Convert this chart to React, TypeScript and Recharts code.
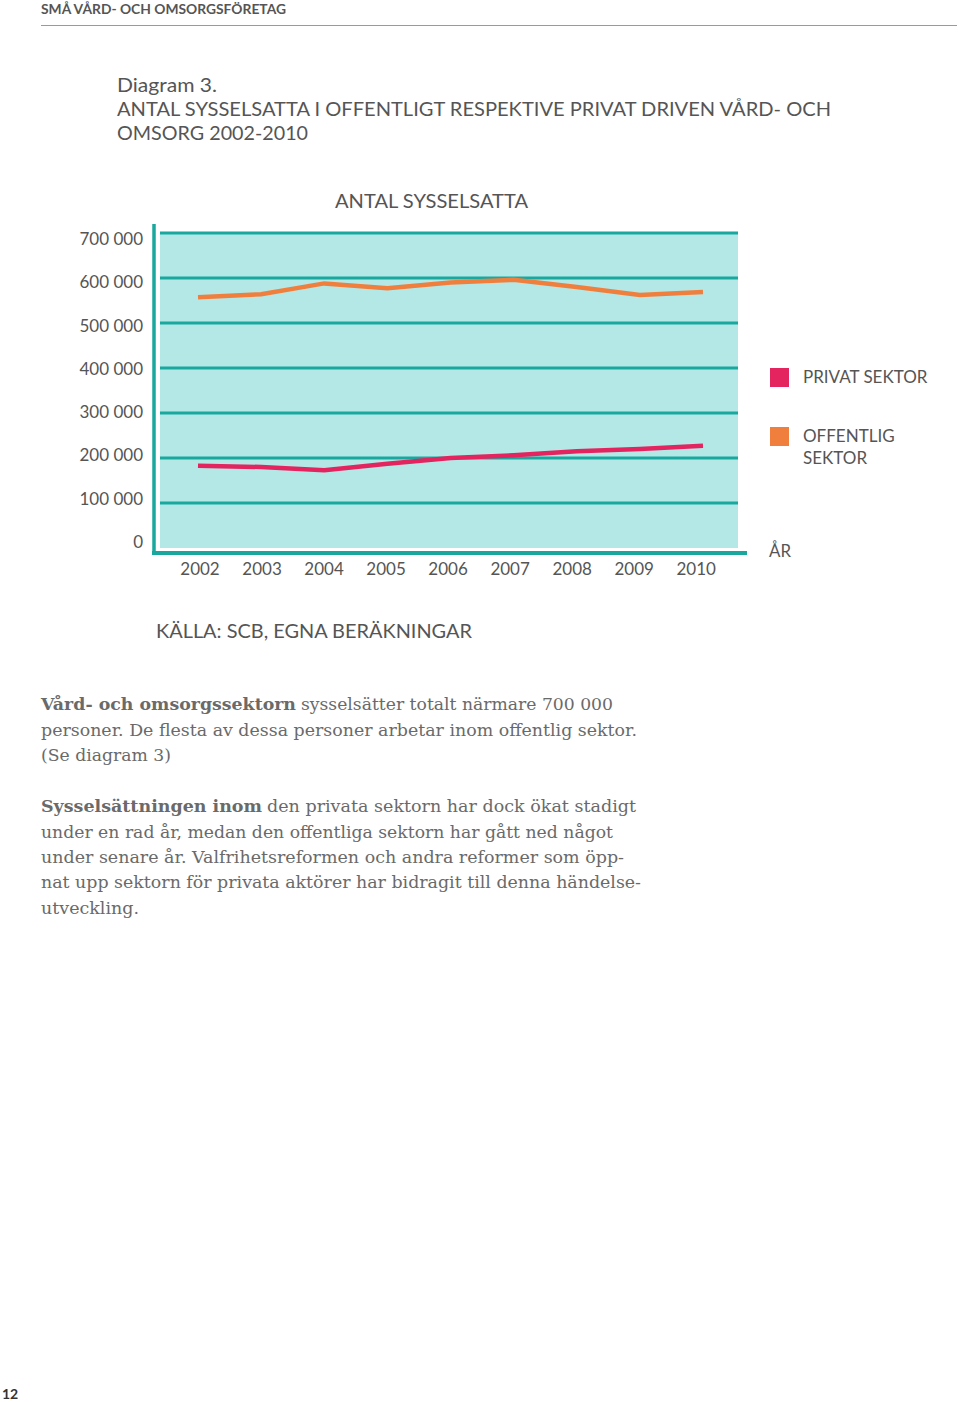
import React from 'react';
import { LineChart, Line, XAxis, YAxis, CartesianGrid, Legend, Customized } from 'recharts';

const years = ['2002', '2003', '2004', '2005', '2006', '2007', '2008', '2009', '2010'];
const offentligSektor = [557000, 564000, 588000, 577000, 590000, 596000, 580000, 562000, 569000];
const privatSektor = [183000, 180000, 173000, 187000, 200000, 206000, 215000, 220000, 227000];
const yTicks = [0, 100000, 200000, 300000, 400000, 500000, 600000, 700000];
const gridValues = [100000, 200000, 300000, 400000, 500000, 600000, 700000];
const legendOrder = ['privat', 'offentlig'];

const data = years.map((year, i) => ({
  year,
  privat: privatSektor[i],
  offentlig: offentligSektor[i],
}));

const TEAL = '#1aa89e';
const BG = '#b3e8e7';
const PINK = '#e3245f';
const ORANGE = '#f07f3e';
const GREY = '#555555';
const SANS = 'Lato, "Open Sans", sans-serif';
const SERIF = '"DejaVu Serif", serif';

const CHART_W = 960;
const CHART_H = 600;
const MARGIN = { top: 233, right: 222, bottom: 22, left: 100 };
const Y_W = 60;
const X_H = 30;
const PLOT_X = MARGIN.left + Y_W;
const PLOT_Y = MARGIN.top;
const PLOT_W = CHART_W - MARGIN.right - PLOT_X;
const PLOT_H = CHART_H - MARGIN.bottom - X_H - PLOT_Y;

const fmt = (v: number) => (v === 0 ? '0' : `${Math.round(v / 1000)} 000`);

const YTick = (props: any) => {
  const { x, y, payload } = props;
  const v = payload.value as number;
  const dy = 6 + ((v - 350000) / 350000) * 6;
  return (
    <text x={x} y={y + dy} textAnchor="end" fill={GREY} fontFamily={SANS} fontSize={17}>
      {fmt(v)}
    </text>
  );
};

const XTick = (props: any) => {
  const { x, y, payload, index } = props;
  return (
    <text x={x + 2 - index * 1.1} y={y + 27} textAnchor="middle" fill={GREY} fontFamily={SANS} fontSize={17}>
      {payload.value}
    </text>
  );
};

const AxisFrame = () => (
  <g>
    <line x1={PLOT_X - 6} x2={PLOT_X - 6} y1={PLOT_Y - 9} y2={PLOT_Y + PLOT_H + 7} stroke={TEAL} strokeWidth={3.5} />
    <line x1={PLOT_X - 8} x2={PLOT_X + PLOT_W + 9} y1={PLOT_Y + PLOT_H + 5} y2={PLOT_Y + PLOT_H + 5} stroke={TEAL} strokeWidth={4} />
  </g>
);

const legendLabels: Record<string, string[]> = {
  privat: ['PRIVAT SEKTOR'],
  offentlig: ['OFFENTLIG', 'SEKTOR'],
};

const renderLegend = (props: any) => {
  const payload = [...(props.payload || [])].sort(
    (a: any, b: any) => legendOrder.indexOf(a.dataKey) - legendOrder.indexOf(b.dataKey)
  );
  return (
    <div style={{ position: 'relative', width: 190 }}>
      {payload.map((entry: any, i: number) => (
        <div key={i} style={{ position: 'absolute', left: 0, top: i * 59, display: 'flex' }}>
          <div style={{ width: 19, height: 19, background: entry.color }} />
          <div
            style={{
              marginLeft: 14,
              fontFamily: SANS,
              fontSize: 17,
              color: GREY,
              lineHeight: '21.5px',
              marginTop: -2,
              whiteSpace: 'nowrap',
            }}
          >
            {(legendLabels[entry.dataKey] || [entry.value]).map((l: string, j: number) => (
              <div key={j}>{l}</div>
            ))}
          </div>
        </div>
      ))}
    </div>
  );
};

const T = (p: any) => <text {...p} />;

export default function App() {
  return (
    <div style={{ position: 'absolute', left: 0, top: 0, width: 960, height: 1402, background: '#fff', overflow: 'hidden' }}>
      <svg width={960} height={1402} style={{ position: 'absolute', left: 0, top: 0 }}>
        <T x={41} y={14} fontFamily={SANS} fontWeight={700} fontSize={12.5} fill={GREY} textLength={245} lengthAdjust="spacingAndGlyphs">
          SMÅ VÅRD- OCH OMSORGSFÖRETAG
        </T>
        <line x1={41} x2={957} y1={25.5} y2={25.5} stroke="#9a9a9a" strokeWidth={1.2} />
        <T x={117} y={92} fontFamily={SANS} fontSize={20} fill={GREY} textLength={100} lengthAdjust="spacingAndGlyphs">
          Diagram 3.
        </T>
        <T x={117} y={116} fontFamily={SANS} fontSize={20} fill={GREY} textLength={714} lengthAdjust="spacingAndGlyphs">
          ANTAL SYSSELSATTA I OFFENTLIGT RESPEKTIVE PRIVAT DRIVEN VÅRD- OCH
        </T>
        <T x={117} y={140} fontFamily={SANS} fontSize={20} fill={GREY} textLength={191} lengthAdjust="spacingAndGlyphs">
          OMSORG 2002-2010
        </T>
        <T x={335} y={208} fontFamily={SANS} fontSize={19} fill={GREY} textLength={193} lengthAdjust="spacingAndGlyphs">
          ANTAL SYSSELSATTA
        </T>
        <T x={769} y={557} fontFamily={SANS} fontSize={17} fill={GREY} textLength={22} lengthAdjust="spacingAndGlyphs">
          ÅR
        </T>
        <T x={156} y={638} fontFamily={SANS} fontSize={19} fill={GREY} textLength={316} lengthAdjust="spacingAndGlyphs">
          KÄLLA: SCB, EGNA BERÄKNINGAR
        </T>

        <g fontFamily={SERIF} fontSize={17} fill="#6a6a6a">
          <T x={41} y={710} fontWeight={700} textLength={255} lengthAdjust="spacingAndGlyphs">Vård- och omsorgssektorn</T>
          <T x={301} y={710} textLength={312} lengthAdjust="spacingAndGlyphs">sysselsätter totalt närmare 700 000</T>
          <T x={41} y={736} textLength={596} lengthAdjust="spacingAndGlyphs">personer. De flesta av dessa personer arbetar inom offentlig sektor.</T>
          <T x={41} y={761} textLength={130} lengthAdjust="spacingAndGlyphs">(Se diagram 3)</T>

          <T x={41} y={812} fontWeight={700} textLength={221} lengthAdjust="spacingAndGlyphs">Sysselsättningen inom</T>
          <T x={267} y={812} textLength={369} lengthAdjust="spacingAndGlyphs">den privata sektorn har dock ökat stadigt</T>
          <T x={41} y={838} textLength={572} lengthAdjust="spacingAndGlyphs">under en rad år, medan den offentliga sektorn har gått ned något</T>
          <T x={41} y={863} textLength={583} lengthAdjust="spacingAndGlyphs">under senare år. Valfrihetsreformen och andra reformer som öpp-</T>
          <T x={41} y={888} textLength={600} lengthAdjust="spacingAndGlyphs">nat upp sektorn för privata aktörer har bidragit till denna händelse-</T>
          <T x={41} y={914} textLength={98} lengthAdjust="spacingAndGlyphs">utveckling.</T>
        </g>

        <T x={2} y={1399} fontFamily={SANS} fontWeight={700} fontSize={14} fill="#333">
          12
        </T>
      </svg>

      <div style={{ position: 'absolute', left: 0, top: 0 }}>
        <LineChart width={CHART_W} height={CHART_H} data={data} margin={MARGIN}>
          <CartesianGrid
            vertical={false}
            horizontalValues={gridValues}
            stroke={TEAL}
            strokeWidth={3}
            fill={BG}
            fillOpacity={1}
          />
          <XAxis
            dataKey="year"
            height={X_H}
            axisLine={false}
            tickLine={false}
            tickSize={0}
            tickMargin={0}
            padding={{ left: 38, right: 35 }}
            tick={<XTick />}
            interval={0}
          />
          <YAxis
            width={Y_W}
            domain={[0, 700000]}
            ticks={yTicks}
            axisLine={false}
            tickLine={false}
            tickSize={0}
            tickMargin={17}
            tick={<YTick />}
            interval={0}
          />
          <Legend
            verticalAlign="top"
            align="left"
            content={renderLegend}
            wrapperStyle={{ position: 'absolute', left: 770, top: 368, width: 190 }}
          />
          <Line
            type="linear"
            dataKey="privat"
            name="PRIVAT SEKTOR"
            stroke={PINK}
            strokeWidth={4.5}
            dot={false}
            activeDot={false}
            isAnimationActive={false}
          />
          <Line
            type="linear"
            dataKey="offentlig"
            name="OFFENTLIG SEKTOR"
            stroke={ORANGE}
            strokeWidth={4.5}
            dot={false}
            activeDot={false}
            isAnimationActive={false}
          />
          <Customized component={<AxisFrame />} />
        </LineChart>
      </div>
    </div>
  );
}
